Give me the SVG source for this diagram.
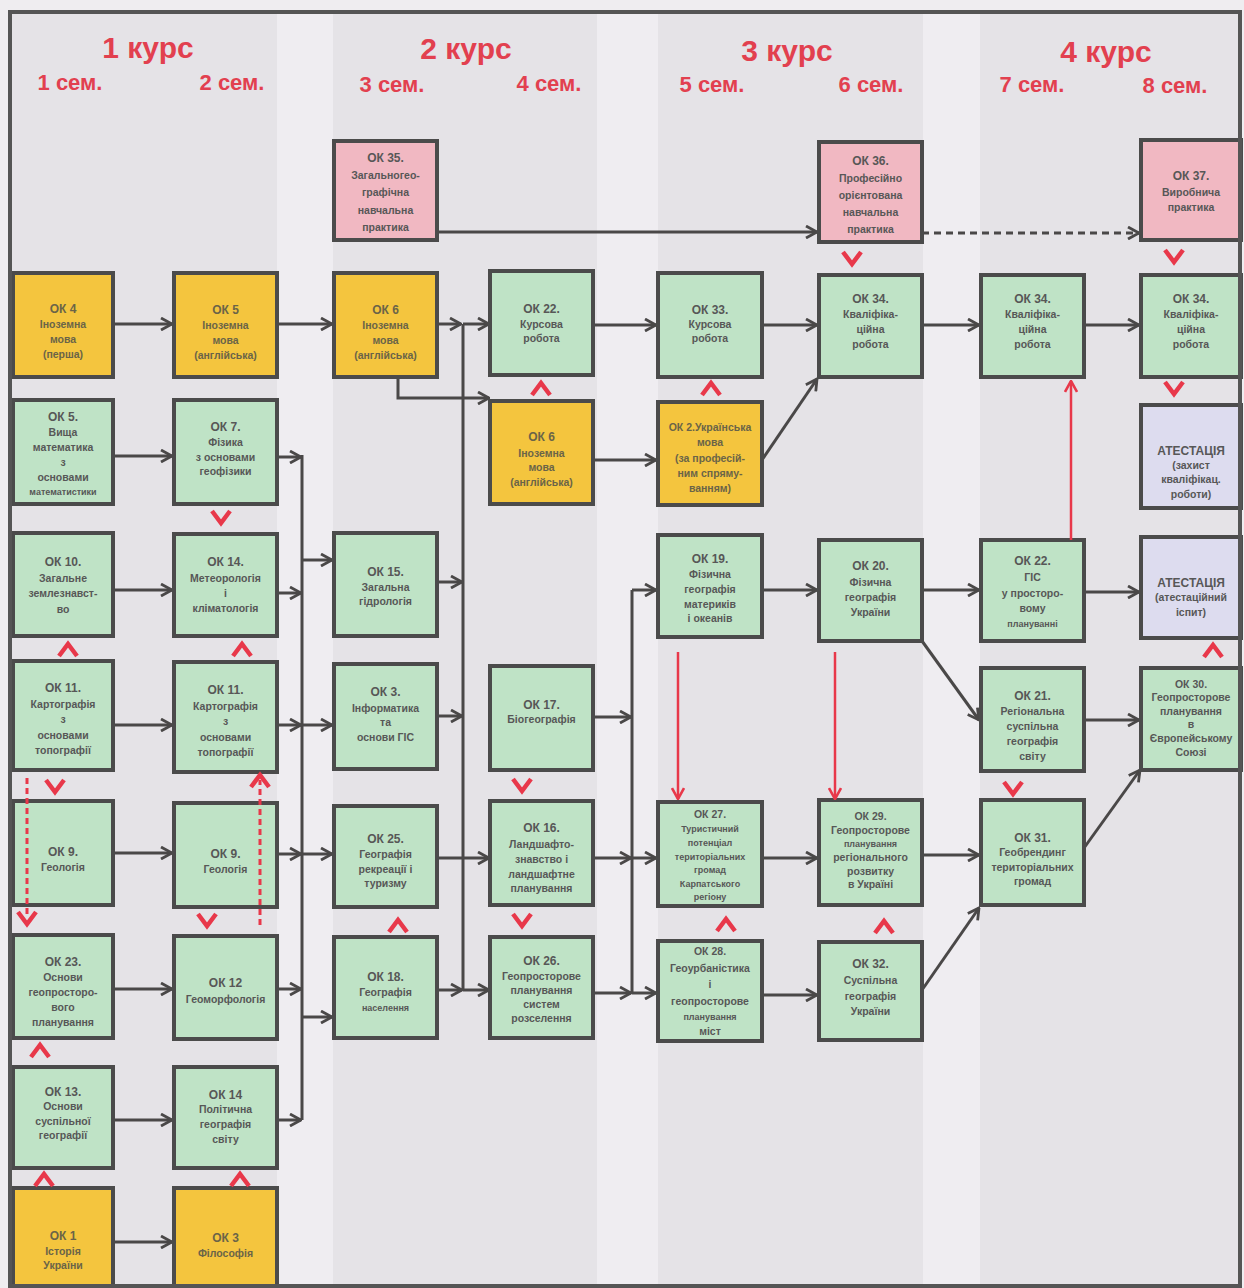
<svg xmlns="http://www.w3.org/2000/svg" xmlns:xlink="http://www.w3.org/1999/xlink" width="1244" height="1288" viewBox="0 0 1244 1288">
<style>
.hd{font-family:"Liberation Sans",Arial,sans-serif;font-weight:bold;fill:#e2404f;text-anchor:middle}
.k{font-size:30px}
.s{font-size:22px}
.node rect{stroke:#4b4b4b;stroke-width:4}
.g rect{fill:#bfe3c6}
.y rect{fill:#f4c53e}
.p rect{fill:#f1b8c2}
.l rect{fill:#dddcef}
.node text{font-family:"Liberation Sans",Arial,sans-serif;font-weight:bold;font-size:10.5px;fill:#575757;text-anchor:middle}
.y text{fill:#6a6448}
.node .t{font-size:12px}
.sm{font-size:9px}
.cn path{fill:none;stroke:#4a4848;stroke-width:3}
.cn .d{stroke-dasharray:7 5}
.red path{fill:none;stroke:#e8384a;stroke-width:2.5}
.red .rd{stroke-dasharray:6 4;stroke-width:3}
</style>
<defs>
<marker id="ah" viewBox="0 0 14 14" refX="13" refY="7" markerWidth="14" markerHeight="14" markerUnits="userSpaceOnUse" orient="auto">
<path d="M2,1 L13,7 L2,13" fill="none" stroke="#4a4848" stroke-width="2.8"/>
</marker>
<marker id="rh" viewBox="0 0 14 14" refX="13" refY="7" markerWidth="14" markerHeight="14" markerUnits="userSpaceOnUse" orient="auto">
<path d="M2,1 L13,7 L2,13" fill="none" stroke="#e8384a" stroke-width="2.6"/>
</marker>
<path id="cu" d="M-9,6 L0,-6 L9,6" fill="none" stroke="#e8384a" stroke-width="4.5"/>
<path id="cd" d="M-9,-6 L0,6 L9,-6" fill="none" stroke="#e8384a" stroke-width="4.5"/>
</defs>
<rect x="0" y="0" width="1244" height="1288" fill="#efedf0"/>
<rect x="10" y="12" width="1230" height="1274" fill="#e5e3e7"/>
<rect x="277" y="12" width="56" height="1274" fill="#efedf1"/>
<rect x="597" y="12" width="61" height="1274" fill="#efedf1"/>
<rect x="923" y="12" width="57" height="1274" fill="#efedf1"/>
<rect x="10" y="12" width="1230" height="1274" fill="none" stroke="#555" stroke-width="4"/>

<g id="headers">
<text class="hd k" x="148" y="58">1 курс</text>
<text class="hd k" x="466" y="59">2 курс</text>
<text class="hd k" x="787" y="61">3 курс</text>
<text class="hd k" x="1106" y="62">4 курс</text>
<text class="hd s" x="70" y="90">1 сем.</text>
<text class="hd s" x="232" y="90">2 сем.</text>
<text class="hd s" x="392" y="92">3 сем.</text>
<text class="hd s" x="549" y="91">4 сем.</text>
<text class="hd s" x="712" y="92">5 сем.</text>
<text class="hd s" x="871" y="92">6 сем.</text>
<text class="hd s" x="1032" y="92">7 сем.</text>
<text class="hd s" x="1175" y="93">8 сем.</text>
</g>

<g id="connectors" class="cn">
<path d="M437,232 H817" marker-end="url(#ah)"/>
<path class="d" d="M922,233 H1139" marker-end="url(#ah)"/>
<path d="M113,324 H172" marker-end="url(#ah)"/>
<path d="M277,324 H332" marker-end="url(#ah)"/>
<path d="M437,324 H461" marker-end="url(#ah)"/>
<path d="M463,324 H489" marker-end="url(#ah)"/>
<path d="M593,325 H656" marker-end="url(#ah)"/>
<path d="M762,325 H817" marker-end="url(#ah)"/>
<path d="M922,325 H979" marker-end="url(#ah)"/>
<path d="M1084,325 H1139" marker-end="url(#ah)"/>
<path d="M398,377 V398 H489" marker-end="url(#ah)"/>
<path d="M593,460 H656" marker-end="url(#ah)"/>
<path d="M762,460 L817,379" marker-end="url(#ah)"/>
<path d="M463,324 V990"/>
<path d="M302,455 V1120"/>
<path d="M632,590 V993"/>
<path d="M113,456 H172" marker-end="url(#ah)"/>
<path d="M277,457 H301" marker-end="url(#ah)"/>
<path d="M113,590 H172" marker-end="url(#ah)"/>
<path d="M277,593 H301" marker-end="url(#ah)"/>
<path d="M302,560 H332" marker-end="url(#ah)"/>
<path d="M437,582 H462" marker-end="url(#ah)"/>
<path d="M632,590 H656" marker-end="url(#ah)"/>
<path d="M762,590 H817" marker-end="url(#ah)"/>
<path d="M922,590 H979" marker-end="url(#ah)"/>
<path d="M1084,592 H1139" marker-end="url(#ah)"/>
<path d="M922,641 L979,720" marker-end="url(#ah)"/>
<path d="M113,725 H172" marker-end="url(#ah)"/>
<path d="M277,725 H301" marker-end="url(#ah)"/>
<path d="M302,725 H332" marker-end="url(#ah)"/>
<path d="M437,716 H462" marker-end="url(#ah)"/>
<path d="M593,717 H631" marker-end="url(#ah)"/>
<path d="M1084,720 H1139" marker-end="url(#ah)"/>
<path d="M113,853 H172" marker-end="url(#ah)"/>
<path d="M277,854 H301" marker-end="url(#ah)"/>
<path d="M302,854 H332" marker-end="url(#ah)"/>
<path d="M437,858 H489" marker-end="url(#ah)"/>
<path d="M593,858 H631" marker-end="url(#ah)"/>
<path d="M632,858 H656" marker-end="url(#ah)"/>
<path d="M762,858 H817" marker-end="url(#ah)"/>
<path d="M922,855 H979" marker-end="url(#ah)"/>
<path d="M1084,848 L1140,770" marker-end="url(#ah)"/>
<path d="M113,989 H172" marker-end="url(#ah)"/>
<path d="M277,989 H301" marker-end="url(#ah)"/>
<path d="M302,1017 H332" marker-end="url(#ah)"/>
<path d="M437,990 H462" marker-end="url(#ah)"/>
<path d="M463,990 H489" marker-end="url(#ah)"/>
<path d="M593,993 H631" marker-end="url(#ah)"/>
<path d="M632,993 H656" marker-end="url(#ah)"/>
<path d="M762,995 H817" marker-end="url(#ah)"/>
<path d="M922,990 L979,908" marker-end="url(#ah)"/>
<path d="M113,1120 H172" marker-end="url(#ah)"/>
<path d="M277,1120 H301" marker-end="url(#ah)"/>
<path d="M113,1242 H172" marker-end="url(#ah)"/>
</g>

<!-- row 0 -->
<g id="ok35" class="node p"><rect x="334" y="141" width="103" height="99"/><text><tspan class="t" x="385.5" y="162">ОК 35.</tspan><tspan x="385.5" y="179">Загальногео-</tspan><tspan x="385.5" y="196">графічна</tspan><tspan x="385.5" y="214">навчальна</tspan><tspan x="385.5" y="231">практика</tspan></text></g>
<g id="ok36" class="node p"><rect x="819" y="142" width="103" height="100"/><text><tspan class="t" x="870.5" y="165">ОК 36.</tspan><tspan x="870.5" y="182">Професійно</tspan><tspan x="870.5" y="199">орієнтована</tspan><tspan x="870.5" y="216">навчальна</tspan><tspan x="870.5" y="233">практика</tspan></text></g>
<g id="ok37" class="node p"><rect x="1141" y="140" width="100" height="100"/><text><tspan class="t" x="1191" y="180">ОК 37.</tspan><tspan x="1191" y="196">Виробнича</tspan><tspan x="1191" y="211">практика</tspan></text></g>

<!-- row 1 -->
<g id="ok4" class="node y"><rect x="13" y="273" width="100" height="104"/><text><tspan class="t" x="63" y="313">ОК 4</tspan><tspan x="63" y="328">Іноземна</tspan><tspan x="63" y="343">мова</tspan><tspan x="63" y="358">(перша)</tspan></text></g>
<g id="ok5a" class="node y"><rect x="174" y="273" width="103" height="104"/><text><tspan class="t" x="225.5" y="314">ОК 5</tspan><tspan x="225.5" y="329">Іноземна</tspan><tspan x="225.5" y="344">мова</tspan><tspan x="225.5" y="359">(англійська)</tspan></text></g>
<g id="ok6a" class="node y"><rect x="334" y="273" width="103" height="104"/><text><tspan class="t" x="385.5" y="314">ОК 6</tspan><tspan x="385.5" y="329">Іноземна</tspan><tspan x="385.5" y="344">мова</tspan><tspan x="385.5" y="359">(англійська)</tspan></text></g>
<g id="ok22k" class="node g"><rect x="490" y="271" width="103" height="104"/><text><tspan class="t" x="541.5" y="313">ОК 22.</tspan><tspan x="541.5" y="328">Курсова</tspan><tspan x="541.5" y="342">робота</tspan></text></g>
<g id="ok33" class="node g"><rect x="658" y="273" width="104" height="104"/><text><tspan class="t" x="710" y="314">ОК 33.</tspan><tspan x="710" y="328">Курсова</tspan><tspan x="710" y="342">робота</tspan></text></g>
<g id="ok34a" class="node g"><rect x="819" y="275" width="103" height="102"/><text><tspan class="t" x="870.5" y="303">ОК 34.</tspan><tspan x="870.5" y="318">Кваліфіка-</tspan><tspan x="870.5" y="333">ційна</tspan><tspan x="870.5" y="348">робота</tspan></text></g>
<g id="ok34b" class="node g"><rect x="981" y="275" width="103" height="102"/><text><tspan class="t" x="1032.5" y="303">ОК 34.</tspan><tspan x="1032.5" y="318">Кваліфіка-</tspan><tspan x="1032.5" y="333">ційна</tspan><tspan x="1032.5" y="348">робота</tspan></text></g>
<g id="ok34c" class="node g"><rect x="1141" y="275" width="100" height="102"/><text><tspan class="t" x="1191" y="303">ОК 34.</tspan><tspan x="1191" y="318">Кваліфіка-</tspan><tspan x="1191" y="333">ційна</tspan><tspan x="1191" y="348">робота</tspan></text></g>

<!-- row 2 -->
<g id="ok5m" class="node g"><rect x="13" y="400" width="100" height="104"/><text><tspan class="t" x="63" y="421">ОК 5.</tspan><tspan x="63" y="436">Вища</tspan><tspan x="63" y="451">математика</tspan><tspan x="63" y="466">з</tspan><tspan x="63" y="481">основами</tspan><tspan class="sm" x="63" y="495">математистики</tspan></text></g>
<g id="ok7" class="node g"><rect x="174" y="400" width="103" height="104"/><text><tspan class="t" x="225.5" y="431">ОК 7.</tspan><tspan x="225.5" y="446">Фізика</tspan><tspan x="225.5" y="461">з основами</tspan><tspan x="225.5" y="475">геофізики</tspan></text></g>
<g id="ok6b" class="node y"><rect x="490" y="401" width="103" height="103"/><text><tspan class="t" x="541.5" y="441">ОК 6</tspan><tspan x="541.5" y="457">Іноземна</tspan><tspan x="541.5" y="471">мова</tspan><tspan x="541.5" y="486">(англійська)</tspan></text></g>
<g id="ok2" class="node y"><rect x="658" y="402" width="104" height="103"/><text><tspan x="710" y="431">ОК 2.Українська</tspan><tspan x="710" y="446">мова</tspan><tspan x="710" y="462">(за професій-</tspan><tspan x="710" y="477">ним спряму-</tspan><tspan x="710" y="492">ванням)</tspan></text></g>
<g id="att1" class="node l"><rect x="1141" y="405" width="100" height="103"/><text><tspan class="t" x="1191" y="455">АТЕСТАЦІЯ</tspan><tspan x="1191" y="469">(захист</tspan><tspan x="1191" y="483">кваліфікац.</tspan><tspan x="1191" y="498">роботи)</tspan></text></g>

<!-- row 3 -->
<g id="ok10" class="node g"><rect x="13" y="533" width="100" height="103"/><text><tspan class="t" x="63" y="566">ОК 10.</tspan><tspan x="63" y="582">Загальне</tspan><tspan x="63" y="597">землезнавст-</tspan><tspan x="63" y="613">во</tspan></text></g>
<g id="ok14m" class="node g"><rect x="174" y="534" width="103" height="102"/><text><tspan class="t" x="225.5" y="566">ОК 14.</tspan><tspan x="225.5" y="582">Метеорологія</tspan><tspan x="225.5" y="597">і</tspan><tspan x="225.5" y="612">кліматологія</tspan></text></g>
<g id="ok15" class="node g"><rect x="334" y="533" width="103" height="103"/><text><tspan class="t" x="385.5" y="576">ОК 15.</tspan><tspan x="385.5" y="591">Загальна</tspan><tspan x="385.5" y="605">гідрологія</tspan></text></g>
<g id="ok19" class="node g"><rect x="658" y="535" width="104" height="102"/><text><tspan class="t" x="710" y="563">ОК 19.</tspan><tspan x="710" y="578">Фізична</tspan><tspan x="710" y="593">географія</tspan><tspan x="710" y="608">материків</tspan><tspan x="710" y="622">і океанів</tspan></text></g>
<g id="ok20" class="node g"><rect x="819" y="540" width="103" height="101"/><text><tspan class="t" x="870.5" y="570">ОК 20.</tspan><tspan x="870.5" y="586">Фізична</tspan><tspan x="870.5" y="601">географія</tspan><tspan x="870.5" y="616">України</tspan></text></g>
<g id="ok22g" class="node g"><rect x="981" y="540" width="103" height="101"/><text><tspan class="t" x="1032.5" y="565">ОК 22.</tspan><tspan x="1032.5" y="581">ГІС</tspan><tspan x="1032.5" y="597">у просторо-</tspan><tspan x="1032.5" y="612">вому</tspan><tspan class="sm" x="1032.5" y="627">плануванні</tspan></text></g>
<g id="att2" class="node l"><rect x="1141" y="537" width="100" height="101"/><text><tspan class="t" x="1191" y="587">АТЕСТАЦІЯ</tspan><tspan x="1191" y="601">(атестаційний</tspan><tspan x="1191" y="616">іспит)</tspan></text></g>

<!-- row 4 -->
<g id="ok11a" class="node g"><rect x="13" y="661" width="100" height="109"/><text><tspan class="t" x="63" y="692">ОК 11.</tspan><tspan x="63" y="708">Картографія</tspan><tspan x="63" y="723">з</tspan><tspan x="63" y="739">основами</tspan><tspan x="63" y="754">топографії</tspan></text></g>
<g id="ok11b" class="node g"><rect x="174" y="662" width="103" height="110"/><text><tspan class="t" x="225.5" y="694">ОК 11.</tspan><tspan x="225.5" y="710">Картографія</tspan><tspan x="225.5" y="725">з</tspan><tspan x="225.5" y="741">основами</tspan><tspan x="225.5" y="756">топографії</tspan></text></g>
<g id="ok3i" class="node g"><rect x="334" y="664" width="103" height="105"/><text><tspan class="t" x="385.5" y="696">ОК 3.</tspan><tspan x="385.5" y="712">Інформатика</tspan><tspan x="385.5" y="726">та</tspan><tspan x="385.5" y="741">основи ГІС</tspan></text></g>
<g id="ok17" class="node g"><rect x="490" y="666" width="103" height="104"/><text><tspan class="t" x="541.5" y="709">ОК 17.</tspan><tspan x="541.5" y="723">Біогеографія</tspan></text></g>
<g id="ok21" class="node g"><rect x="981" y="668" width="103" height="103"/><text><tspan class="t" x="1032.5" y="700">ОК 21.</tspan><tspan x="1032.5" y="715">Регіональна</tspan><tspan x="1032.5" y="730">суспільна</tspan><tspan x="1032.5" y="745">географія</tspan><tspan x="1032.5" y="760">світу</tspan></text></g>
<g id="ok30" class="node g"><rect x="1141" y="668" width="100" height="102"/><text><tspan x="1191" y="688">ОК 30.</tspan><tspan x="1191" y="701">Геопросторове</tspan><tspan x="1191" y="715">планування</tspan><tspan x="1191" y="728">в</tspan><tspan x="1191" y="742">Європейському</tspan><tspan x="1191" y="756">Союзі</tspan></text></g>

<!-- row 5 -->
<g id="ok9a" class="node g"><rect x="13" y="801" width="100" height="104"/><text><tspan class="t" x="63" y="856">ОК 9.</tspan><tspan x="63" y="871">Геологія</tspan></text></g>
<g id="ok9b" class="node g"><rect x="174" y="803" width="103" height="104"/><text><tspan class="t" x="225.5" y="858">ОК 9.</tspan><tspan x="225.5" y="873">Геологія</tspan></text></g>
<g id="ok25" class="node g"><rect x="334" y="806" width="103" height="101"/><text><tspan class="t" x="385.5" y="843">ОК 25.</tspan><tspan x="385.5" y="858">Географія</tspan><tspan x="385.5" y="873">рекреації і</tspan><tspan x="385.5" y="887">туризму</tspan></text></g>
<g id="ok16" class="node g"><rect x="490" y="801" width="103" height="104"/><text><tspan class="t" x="541.5" y="832">ОК 16.</tspan><tspan x="541.5" y="848">Ландшафто-</tspan><tspan x="541.5" y="863">знавство і</tspan><tspan x="541.5" y="878">ландшафтне</tspan><tspan x="541.5" y="892">планування</tspan></text></g>
<g id="ok27" class="node g"><rect x="658" y="802" width="104" height="104"/><text><tspan x="710" y="818">ОК 27.</tspan><tspan class="sm" x="710" y="832">Туристичний</tspan><tspan class="sm" x="710" y="846">потенціал</tspan><tspan class="sm" x="710" y="860">територіальних</tspan><tspan class="sm" x="710" y="873">громад</tspan><tspan class="sm" x="710" y="887">Карпатського</tspan><tspan class="sm" x="710" y="900">регіону</tspan></text></g>
<g id="ok29" class="node g"><rect x="819" y="800" width="103" height="105"/><text><tspan x="870.5" y="820">ОК 29.</tspan><tspan x="870.5" y="834">Геопросторове</tspan><tspan class="sm" x="870.5" y="847">планування</tspan><tspan x="870.5" y="861">регіонального</tspan><tspan x="870.5" y="875">розвитку</tspan><tspan x="870.5" y="888">в Україні</tspan></text></g>
<g id="ok31" class="node g"><rect x="981" y="800" width="103" height="105"/><text><tspan class="t" x="1032.5" y="842">ОК 31.</tspan><tspan x="1032.5" y="856">Геобрендинг</tspan><tspan x="1032.5" y="871">територіальних</tspan><tspan x="1032.5" y="885">громад</tspan></text></g>

<!-- row 6 -->
<g id="ok23" class="node g"><rect x="13" y="935" width="100" height="103"/><text><tspan class="t" x="63" y="966">ОК 23.</tspan><tspan x="63" y="981">Основи</tspan><tspan x="63" y="996">геопросторо-</tspan><tspan x="63" y="1011">вого</tspan><tspan x="63" y="1026">планування</tspan></text></g>
<g id="ok12" class="node g"><rect x="174" y="936" width="103" height="103"/><text><tspan class="t" x="225.5" y="987">ОК 12</tspan><tspan x="225.5" y="1003">Геоморфологія</tspan></text></g>
<g id="ok18" class="node g"><rect x="334" y="937" width="103" height="101"/><text><tspan class="t" x="385.5" y="981">ОК 18.</tspan><tspan x="385.5" y="996">Географія</tspan><tspan class="sm" x="385.5" y="1011">населення</tspan></text></g>
<g id="ok26" class="node g"><rect x="490" y="937" width="103" height="101"/><text><tspan class="t" x="541.5" y="965">ОК 26.</tspan><tspan x="541.5" y="980">Геопросторове</tspan><tspan x="541.5" y="994">планування</tspan><tspan x="541.5" y="1008">систем</tspan><tspan x="541.5" y="1022">розселення</tspan></text></g>
<g id="ok28" class="node g"><rect x="658" y="941" width="104" height="100"/><text><tspan x="710" y="955">ОК 28.</tspan><tspan x="710" y="972">Геоурбаністика</tspan><tspan x="710" y="988">і</tspan><tspan x="710" y="1005">геопросторове</tspan><tspan class="sm" x="710" y="1020">планування</tspan><tspan x="710" y="1035">міст</tspan></text></g>
<g id="ok32" class="node g"><rect x="819" y="942" width="103" height="98"/><text><tspan class="t" x="870.5" y="968">ОК 32.</tspan><tspan x="870.5" y="984">Суспільна</tspan><tspan x="870.5" y="1000">географія</tspan><tspan x="870.5" y="1015">України</tspan></text></g>

<!-- row 7 -->
<g id="ok13" class="node g"><rect x="13" y="1067" width="100" height="101"/><text><tspan class="t" x="63" y="1096">ОК 13.</tspan><tspan x="63" y="1110">Основи</tspan><tspan x="63" y="1125">суспільної</tspan><tspan x="63" y="1139">географії</tspan></text></g>
<g id="ok14p" class="node g"><rect x="174" y="1067" width="103" height="101"/><text><tspan class="t" x="225.5" y="1099">ОК 14</tspan><tspan x="225.5" y="1113">Політична</tspan><tspan x="225.5" y="1128">географія</tspan><tspan x="225.5" y="1143">світу</tspan></text></g>

<!-- row 8 -->
<g id="ok1" class="node y"><rect x="13" y="1188" width="100" height="98"/><text><tspan class="t" x="63" y="1240">ОК 1</tspan><tspan x="63" y="1255">Історія</tspan><tspan x="63" y="1269">України</tspan></text></g>
<g id="ok3f" class="node y"><rect x="174" y="1188" width="103" height="98"/><text><tspan class="t" x="225.5" y="1242">ОК 3</tspan><tspan x="225.5" y="1257">Філософія</tspan></text></g>

<g id="red-links" class="red">
<path d="M678,652 V799" marker-end="url(#rh)"/>
<path d="M835,652 V799" marker-end="url(#rh)"/>
<path d="M1071,540 V381" marker-end="url(#rh)"/>
<path class="rd" d="M27,778 V918"/>
<path class="rd" d="M260,925 V780"/>
<use href="#cd" x="27" y="918"/>
<use href="#cu" x="260" y="781"/>
<use href="#cd" x="852" y="258"/>
<use href="#cd" x="1174" y="256"/>
<use href="#cd" x="1174" y="388"/>
<use href="#cd" x="221" y="517"/>
<use href="#cd" x="55" y="786"/>
<use href="#cd" x="207" y="920"/>
<use href="#cd" x="522" y="785"/>
<use href="#cd" x="522" y="920"/>
<use href="#cd" x="1013" y="788"/>
<use href="#cu" x="541" y="389"/>
<use href="#cu" x="711" y="389"/>
<use href="#cu" x="68" y="650"/>
<use href="#cu" x="242" y="650"/>
<use href="#cu" x="398" y="926"/>
<use href="#cu" x="40" y="1051"/>
<use href="#cu" x="44" y="1180"/>
<use href="#cu" x="240" y="1180"/>
<use href="#cu" x="726" y="925"/>
<use href="#cu" x="884" y="927"/>
<use href="#cu" x="1213" y="651"/>
</g>

<rect x="10" y="12" width="1230" height="1274" fill="none" stroke="#555" stroke-width="4"/>
</svg>
